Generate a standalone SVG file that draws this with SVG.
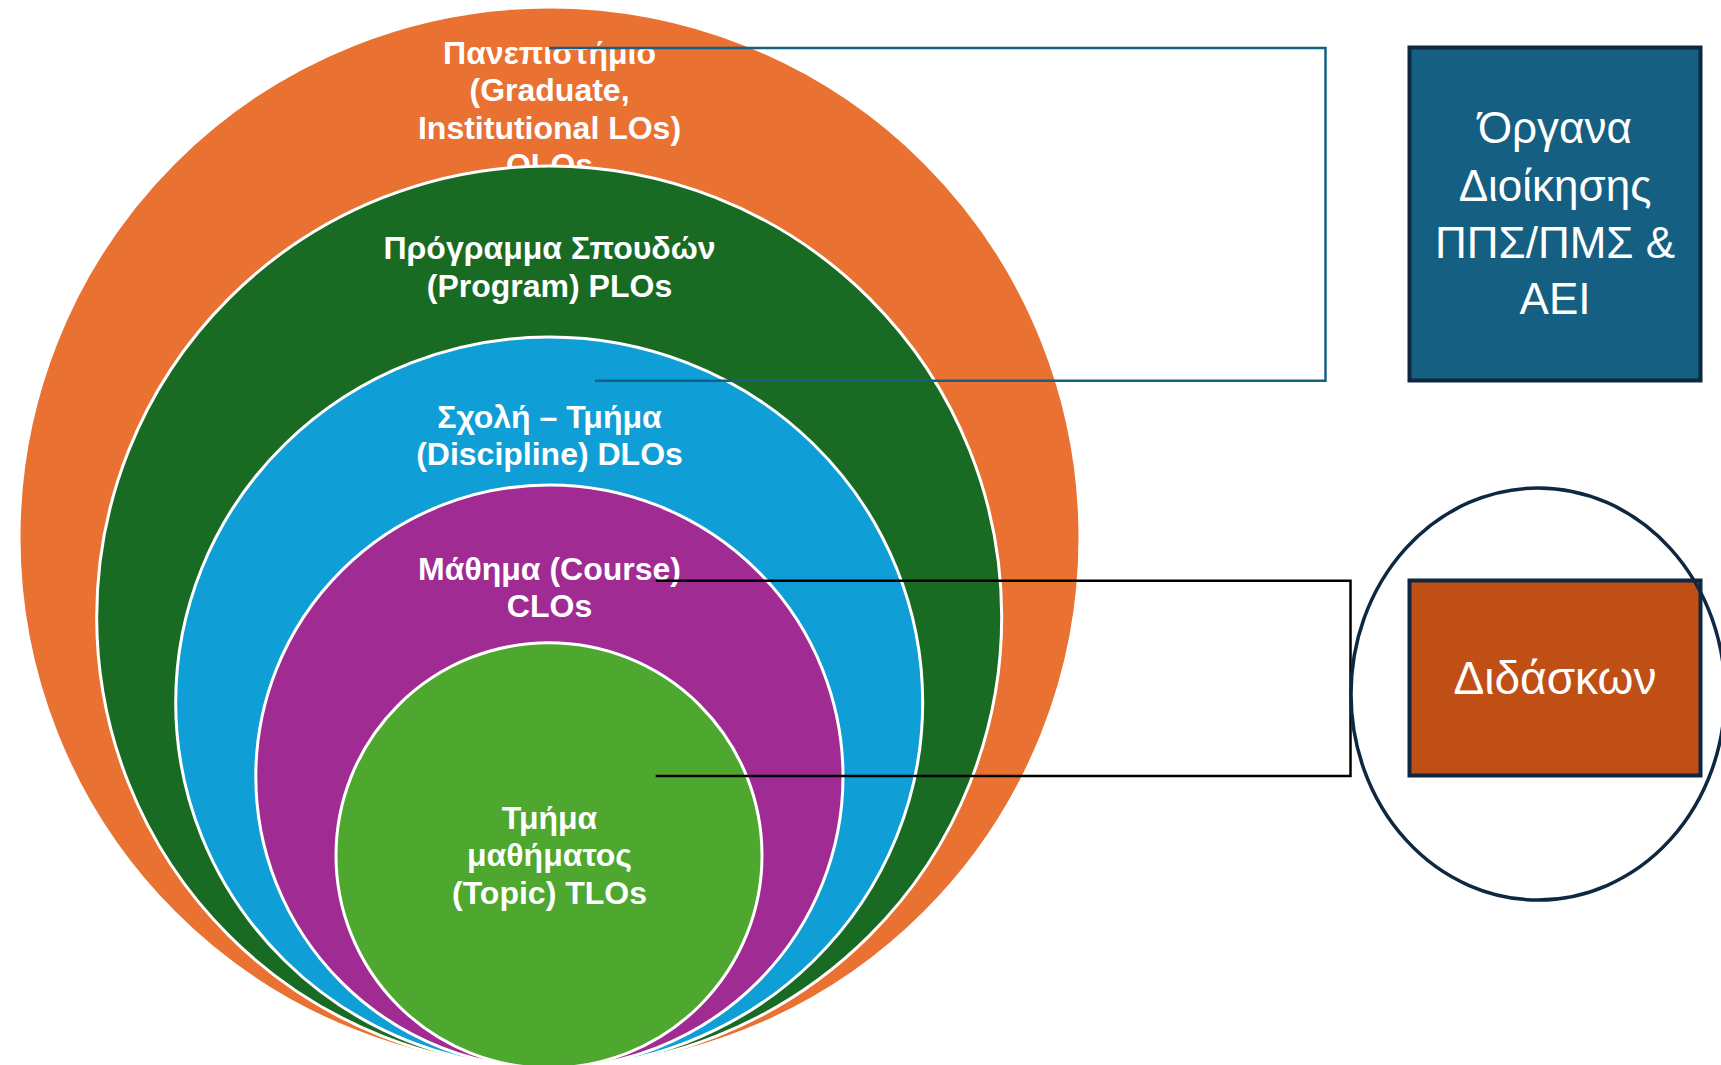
<svg xmlns="http://www.w3.org/2000/svg" width="1721" height="1065" viewBox="0 0 1721 1065">
<style>
.ring{stroke:#FFFFFF;stroke-width:3}
.lt{font-family:"Liberation Sans","Noto Sans",sans-serif;font-weight:700;font-size:32px;fill:#FFFFFF;text-anchor:middle}
.rt{font-family:"Liberation Sans","Noto Sans",sans-serif;font-weight:400;font-size:44px;fill:#FFFFFF;text-anchor:middle}
.box{stroke:#0E2841;stroke-width:4}
.cb{fill:none;stroke:#156082;stroke-width:2.5}
.ck{fill:none;stroke:#000000;stroke-width:2.5}
</style>
<rect x="0" y="0" width="1721" height="1065" fill="#FFFFFF"/>
<g id="university">
<ellipse class="ring" cx="549.5" cy="537.5" rx="530.5" ry="530.5" fill="#E97132"/>
<text class="lt" x="549.5" y="63.5">Πανεπιστήμιο</text>
<text class="lt" x="549.5" y="101">(Graduate,</text>
<text class="lt" x="549.5" y="138.5">Institutional LOs)</text>
<text class="lt" x="549.5" y="176">OLOs</text>
</g>
<g id="program">
<ellipse class="ring" cx="549.2" cy="617" rx="452.5" ry="451" fill="#196B24"/>
<text class="lt" x="549.5" y="259">Πρόγραμμα Σπουδών</text>
<text class="lt" x="549.5" y="296.5">(Program) PLOs</text>
</g>
<g id="discipline">
<ellipse class="ring" cx="549.2" cy="702.5" rx="373.5" ry="365.5" fill="#0F9ED5"/>
<text class="lt" x="549.5" y="427.5">Σχολή – Τμήμα</text>
<text class="lt" x="549.5" y="465">(Discipline) DLOs</text>
</g>
<g id="course">
<ellipse class="ring" cx="549.4" cy="776.5" rx="293.6" ry="291.5" fill="#A02B93"/>
<text class="lt" x="549.5" y="580">Μάθημα (Course)</text>
<text class="lt" x="549.5" y="617">CLOs</text>
</g>
<g id="topic">
<ellipse class="ring" cx="549" cy="855.4" rx="213" ry="212.6" fill="#4EA72E"/>
<text class="lt" x="549.5" y="828.5">Τμήμα</text>
<text class="lt" x="549.5" y="866">μαθήματος</text>
<text class="lt" x="549.5" y="904">(Topic) TLOs</text>
</g>
<g id="connectors">
<path class="cb" d="M549,48 H1325.5 V380.7 H595"/>
<path class="ck" d="M655.7,580.7 H1350.5 V776 H655.7"/>
</g>
<g id="governance">
<rect class="box" x="1409.5" y="47.5" width="291" height="333" fill="#156082"/>
<text class="rt" x="1555" y="143">Όργανα</text>
<text class="rt" x="1555" y="201">Διοίκησης</text>
<text class="rt" x="1555" y="258">ΠΠΣ/ΠΜΣ &amp;</text>
<text class="rt" x="1555" y="314">ΑΕΙ</text>
</g>
<g id="instructor">
<rect class="box" x="1409.5" y="580.5" width="291" height="195" fill="#C04F15"/>
<text class="rt" x="1555" y="694" style="font-size:46px">Διδάσκων</text>
</g>
<g id="instructor-circle">
<ellipse cx="1538" cy="694" rx="187" ry="206" fill="none" stroke="#0E2841" stroke-width="3.5"/>
</g>
</svg>
